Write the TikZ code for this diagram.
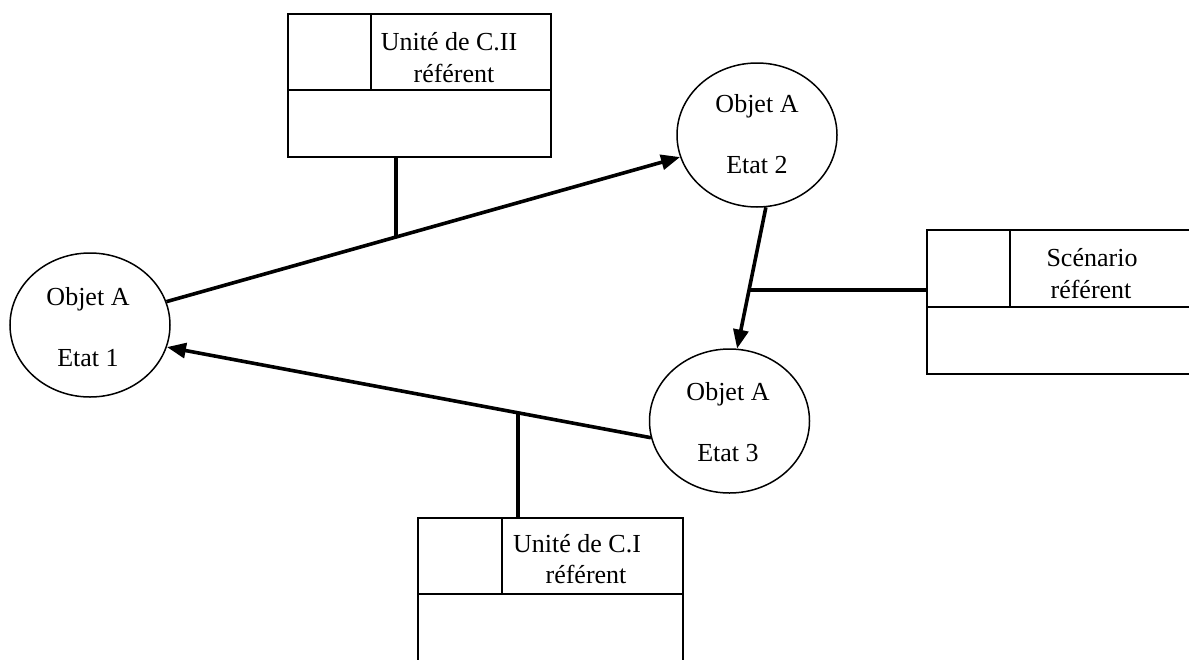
\documentclass[tikz,border=0pt]{standalone}
\usepackage{fontspec}
\setmainfont{Liberation Serif}
\usetikzlibrary{arrows.meta,shapes.geometric}
\begin{document}
\begin{tikzpicture}[x=1pt,y=-1pt,
  state/.style={ellipse,draw,line width=1.5pt,minimum width=160pt,minimum height=144pt,inner sep=0pt},
  frame/.style={draw,rectangle,line width=1.6pt,inner sep=0pt,anchor=north west},
  cell/.style={line width=1.3pt},
  lbl/.style={anchor=base,inner sep=0pt,font=\fontsize{26}{30}\selectfont},
  flow/.style={line width=3.6pt,-{Triangle[length=19pt,width=15pt]}},
  link/.style={line width=3.6pt}]
\clip (0,0) rectangle (1189,659);
\useasboundingbox (0,0) rectangle (1189,659);

% states of object A
\node[state] (e1) at (90,325) {};
\node[state] (e2) at (757,135) {};
\node[state] (e3) at (729.5,421) {};
\node[lbl] (e1a) at (88,305) {Objet A};
\node[lbl] (e1b) at (88,366) {Etat 1};
\node[lbl] (e2a) at (757,112) {Objet A};
\node[lbl] (e2b) at (757,173) {Etat 2};
\node[lbl] (e3a) at (728,400) {Objet A};
\node[lbl] (e3b) at (728,461) {Etat 3};

% reference boxes
\node[frame,minimum width=263pt,minimum height=143pt] (b2) at (287,13) {};
\draw[cell] (b2.north west) ++(0,77) -- ++(263,0);
\draw[cell] (b2.north west) ++(84,0) -- ++(0,77);
\node[lbl] (b2a) at (449,50) {Unité de C.II};
\node[lbl] (b2b) at (454,82) {référent};

\node[frame,minimum width=280pt,minimum height=144pt] (b3) at (926,229) {};
\draw[cell] (b3.north west) ++(0,78) -- ++(280,0);
\draw[cell] (b3.north west) ++(84,0) -- ++(0,78);
\node[lbl] (b3a) at (1092,266) {Scénario};
\node[lbl] (b3b) at (1091,298) {référent};

\node[frame,minimum width=265pt,minimum height=170pt] (b1) at (417,517) {};
\draw[cell] (b1.north west) ++(0,77) -- ++(265,0);
\draw[cell] (b1.north west) ++(85,0) -- ++(0,77);
\node[lbl] (b1a) at (577,552) {Unité de C.I};
\node[lbl] (b1b) at (586,583) {référent};

% transitions
\draw[flow] (e1.17) -- (e2.196);
\draw[flow] (e3.192) -- (e1.344);
\draw[flow] (e2.277) -- (e3.84);

% links from transitions to their boxes
\coordinate (j1) at (intersection of e1.17--e2.196 and 396,0--396,600);
\coordinate (j2) at (intersection of e2.277--e3.84 and 0,290--1189,290);
\coordinate (j3) at (intersection of e3.192--e1.344 and 518,0--518,659);
\draw[link] (b2.south -| j1) -- (j1);
\draw[link] (j2) -- (b3.west |- j2);
\draw[link] (j3) -- (b1.north -| j3);
\end{tikzpicture}
\end{document}
